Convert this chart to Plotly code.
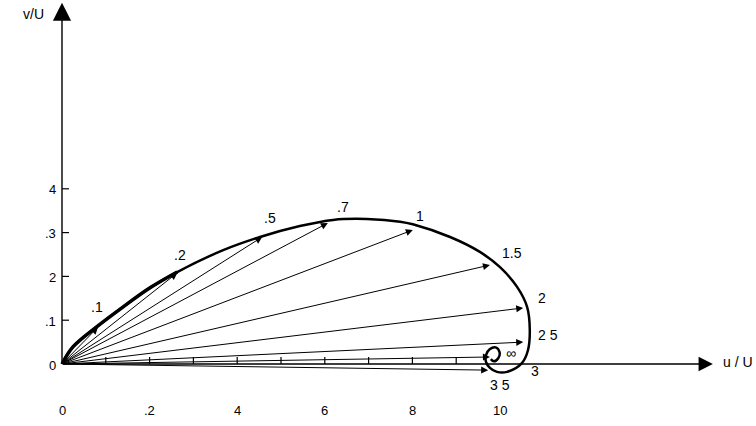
import plotly.graph_objects as go

# hodograph of the velocity (u/U, v/U)
curve_u = [0.0, 0.025, 0.082, 0.139, 0.201, 0.263, 0.368, 0.452, 0.543, 0.619, 0.696, 0.772,
           0.801, 0.886, 0.954, 1.000, 1.039, 1.062, 1.068, 1.064, 1.050, 1.016, 0.993, 0.977,
           0.968, 0.968, 0.977, 0.990, 0.999, 0.996, 0.986, 0.979]
curve_v = [0.0, 0.039, 0.087, 0.130, 0.174, 0.210, 0.260, 0.290, 0.315, 0.329, 0.331, 0.325,
           0.319, 0.290, 0.256, 0.221, 0.176, 0.130, 0.078, 0.032, 0.002, -0.018, -0.018, -0.009,
           0.005, 0.020, 0.034, 0.038, 0.027, 0.013, 0.006, 0.011]

# velocity vectors drawn from the origin
tip_labels = ['.1', '.2', '.5', '.7', '1', '1.5', '2', '2 5', '∞', '3 5']
tip_u = [0.082, 0.263, 0.457, 0.607, 0.801, 0.977, 1.053, 1.053, 0.977, 0.973]
tip_v = [0.084, 0.208, 0.290, 0.322, 0.306, 0.226, 0.128, 0.050, 0.016, -0.014]

# curve point labelled without a vector
mark_label = '3'
mark_u = 1.050
mark_v = 0.002

x_minor_ticks = [0.1, 0.2, 0.3, 0.4, 0.5, 0.6, 0.7, 0.8, 0.9]
x_tick_vals = [0.0, 0.2, 0.4, 0.6, 0.8, 1.0]
x_tick_text = ['0', '.2', '4', '6', '8', '10']
y_tick_vals = [0.0, 0.1, 0.2, 0.3, 0.4]
y_tick_text = ['0', '.1', '2', '.3', '4']

x_axis_end = 1.486
y_axis_end = 0.825

# label offsets in pixels (style only)
label_shift = {
    '.1': (-1, 20), '.2': (3, 18), '.5': (8, 19), '.7': (15, 16), '1': (7, 14),
    '1.5': (22, 12), '2': (19, 10), '2 5': (25, 7), '∞': (21, 4), '3 5': (12, -15),
    '3': (13, -8),
}

FONT = dict(family='Liberation Sans, Arial, sans-serif', size=14, color='black')
TICK_FONT = dict(family='Liberation Sans, Arial, sans-serif', size=13, color='black')
SCALE = 438.0  # pixels per unit
ORIGIN = (62, 364)

fig = go.Figure()

fig.add_trace(go.Scatter(x=curve_u, y=curve_v, mode='lines', line=dict(color='black', width=2.5, shape='spline'),
                         hoverinfo='skip'))
fig.add_trace(go.Scatter(x=curve_u[:6], y=curve_v[:6], mode='lines', line=dict(color='black', width=3.5, shape='spline'),
                         hoverinfo='skip'))

annotations = []
# axes with arrowheads
annotations.append(dict(x=0, y=y_axis_end, ax=0, ay=0, xref='x', yref='y', axref='x', ayref='y', text='',
                        showarrow=True, arrowhead=2, arrowsize=2.6, arrowwidth=1.4, arrowcolor='black'))
annotations.append(dict(x=x_axis_end, y=0, ax=0, ay=0, xref='x', yref='y', axref='x', ayref='y', text='',
                        showarrow=True, arrowhead=2, arrowsize=2.2, arrowwidth=1.3, arrowcolor='black'))

for lab, u, v in zip(tip_labels, tip_u, tip_v):
    annotations.append(dict(x=u, y=v, ax=0, ay=0, xref='x', yref='y', axref='x', ayref='y', text='',
                            showarrow=True, arrowhead=2, arrowsize=1.4, arrowwidth=1, arrowcolor='black'))
    dx, dy = label_shift[lab]
    annotations.append(dict(x=u, y=v, xref='x', yref='y', text=lab, showarrow=False, xshift=dx, yshift=dy,
                            font=FONT))

dx, dy = label_shift[mark_label]
annotations.append(dict(x=mark_u, y=mark_v, xref='x', yref='y', text=mark_label, showarrow=False,
                        xshift=dx, yshift=dy, font=FONT))

for val, txt in zip(x_tick_vals, x_tick_text):
    annotations.append(dict(x=val, y=0, xref='x', yref='y', text=txt, showarrow=False, yshift=-46, font=TICK_FONT))
for val, txt in zip(y_tick_vals, y_tick_text):
    annotations.append(dict(x=0, y=val, xref='x', yref='y', text=txt, showarrow=False, xanchor='right',
                            xshift=-4, yshift=-1, font=TICK_FONT))

annotations.append(dict(x=0, y=y_axis_end, xref='x', yref='y', text='v/U', showarrow=False, xanchor='right',
                        xshift=-16, yshift=-11, font=FONT))
annotations.append(dict(x=x_axis_end, y=0, xref='x', yref='y', text='u / U', showarrow=False, xanchor='left',
                        xshift=8, yshift=2, font=FONT))

shapes = []
tick_len = 7 / SCALE
for t in x_minor_ticks:
    shapes.append(dict(type='line', xref='x', yref='y', x0=t, x1=t, y0=0, y1=tick_len,
                       line=dict(color='black', width=1.2)))
for t in y_tick_vals[1:]:
    shapes.append(dict(type='line', xref='x', yref='y', x0=0, x1=tick_len, y0=t, y1=t,
                       line=dict(color='black', width=1.2)))

fig.update_layout(
    width=756, height=426, autosize=False,
    margin=dict(l=0, r=0, t=0, b=0),
    paper_bgcolor='white', plot_bgcolor='white',
    showlegend=False,
    xaxis=dict(range=[-ORIGIN[0] / SCALE, (756 - ORIGIN[0]) / SCALE], visible=False, fixedrange=True),
    yaxis=dict(range=[-(426 - ORIGIN[1]) / SCALE, ORIGIN[1] / SCALE], visible=False, fixedrange=True),
    annotations=annotations,
    shapes=shapes,
)

fig.write_html("out.html", config={'displayModeBar': False},
               post_script="document.body.style.margin='0px';document.body.style.overflow='hidden';")
